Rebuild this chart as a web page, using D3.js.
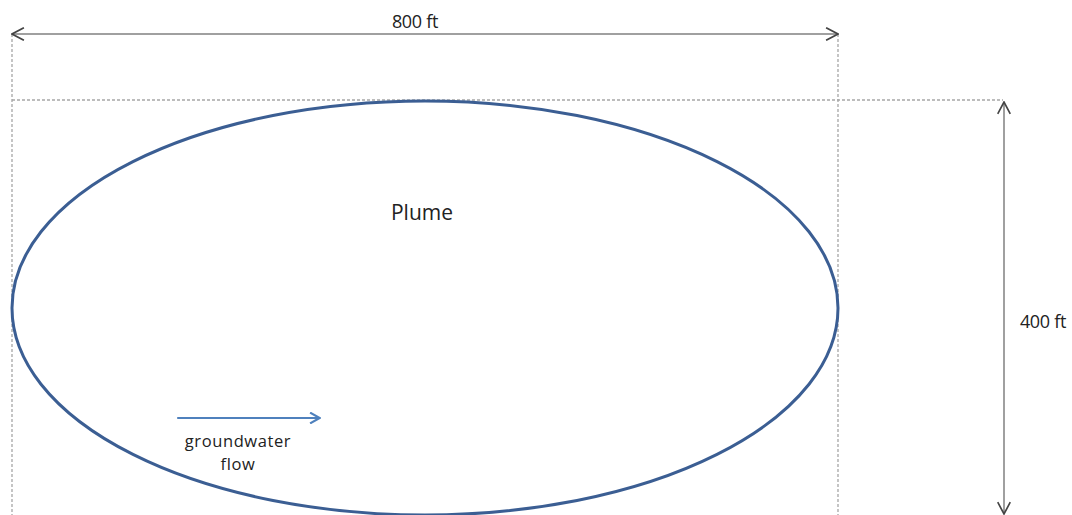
<!DOCTYPE html>
<html><head><meta charset="utf-8">
<script src="https://cdn.jsdelivr.net/npm/d3@7"></script>
<style>body{margin:0;background:#fff}svg{display:block}</style>
</head><body><svg id="c" width="1072" height="515"></svg>
<script>
const plumeLength = 800;   // ft
const plumeWidth = 400;    // ft
const dimLabels = ["800 ft", "400 ft"];
const plumeLabel = ["Plume"];
const flowLabel = ["groundwater", "flow"];

const svg = d3.select("#c");
const x = d3.scaleLinear().domain([0, plumeLength]).range([12, 838]);
const y = d3.scaleLinear().domain([plumeWidth, 0]).range([101, 515]);

const defs = svg.append("defs");
defs.append("marker").attr("id","gh").attr("viewBox","0 0 10 10").attr("refX",9.5).attr("refY",5)
  .attr("markerWidth",14).attr("markerHeight",14).attr("markerUnits","userSpaceOnUse").attr("orient","auto-start-reverse")
  .append("path").attr("d","M1,0.5 L9.5,5 L1,9.5").attr("fill","none").attr("stroke","#444").attr("stroke-width",1.2);
defs.append("marker").attr("id","bh").attr("viewBox","0 0 10 10").attr("refX",9).attr("refY",5)
  .attr("markerWidth",12).attr("markerHeight",12).attr("markerUnits","userSpaceOnUse").attr("orient","auto")
  .append("path").attr("d","M1,0.5 L9,5 L1,9.5").attr("fill","none").attr("stroke","#4f81bd").attr("stroke-width",1.8);

const dash = {stroke:"#a6a6a6", "stroke-width":1.3, "stroke-dasharray":"3,2"};
function line(x1,y1,x2,y2,st){const l=svg.append("line").attr("x1",x1).attr("y1",y1).attr("x2",x2).attr("y2",y2);for(const k in st)l.attr(k,st[k]);return l;}

line(x(0), 34, x(0), 515, dash);
line(x(plumeLength), 34, x(plumeLength), 515, dash);
line(x(0), y(plumeWidth)-1, 1003, y(plumeWidth)-1, dash);

line(x(0), 34, x(plumeLength), 34, {stroke:"#a0a0a0","stroke-width":2})
  .attr("marker-start","url(#gh)").attr("marker-end","url(#gh)");
line(1004, y(plumeWidth)+1, 1004, 514, {stroke:"#a0a0a0","stroke-width":2})
  .attr("marker-start","url(#gh)").attr("marker-end","url(#gh)");

const font = "'Open Sans', 'Liberation Sans', sans-serif";
svg.append("text").attr("x", 415).attr("y", 28).attr("text-anchor","middle")
  .attr("font-family",font).attr("font-size",18).attr("letter-spacing",-0.3).attr("fill","#222").text(dimLabels[0]);
svg.append("text").attr("x", 1043).attr("y", 328).attr("text-anchor","middle")
  .attr("font-family",font).attr("font-size",18).attr("letter-spacing",-0.3).attr("fill","#222").text(dimLabels[1]);

svg.append("ellipse").attr("cx", x(plumeLength/2)).attr("cy", y(plumeWidth/2))
  .attr("rx", (x(plumeLength)-x(0))/2).attr("ry", (y(0)-y(plumeWidth))/2)
  .attr("fill","none").attr("stroke","#3b5e93").attr("stroke-width",3);

svg.append("text").attr("x", 422).attr("y", 220).attr("text-anchor","middle")
  .attr("font-family",font).attr("font-size",21).attr("fill","#222").text(plumeLabel[0]);

line(x(160), 418, x(298), 418, {stroke:"#4f81bd","stroke-width":2.2}).attr("marker-end","url(#bh)");
svg.selectAll("text.flow").data(flowLabel).enter().append("text").attr("class","flow")
  .attr("x",238).attr("y",(d,i)=>447+i*23).attr("text-anchor","middle")
  .attr("font-family",font).attr("font-size",16.5).attr("letter-spacing",0.6).attr("fill","#222").text(d=>d);
</script></body></html>
